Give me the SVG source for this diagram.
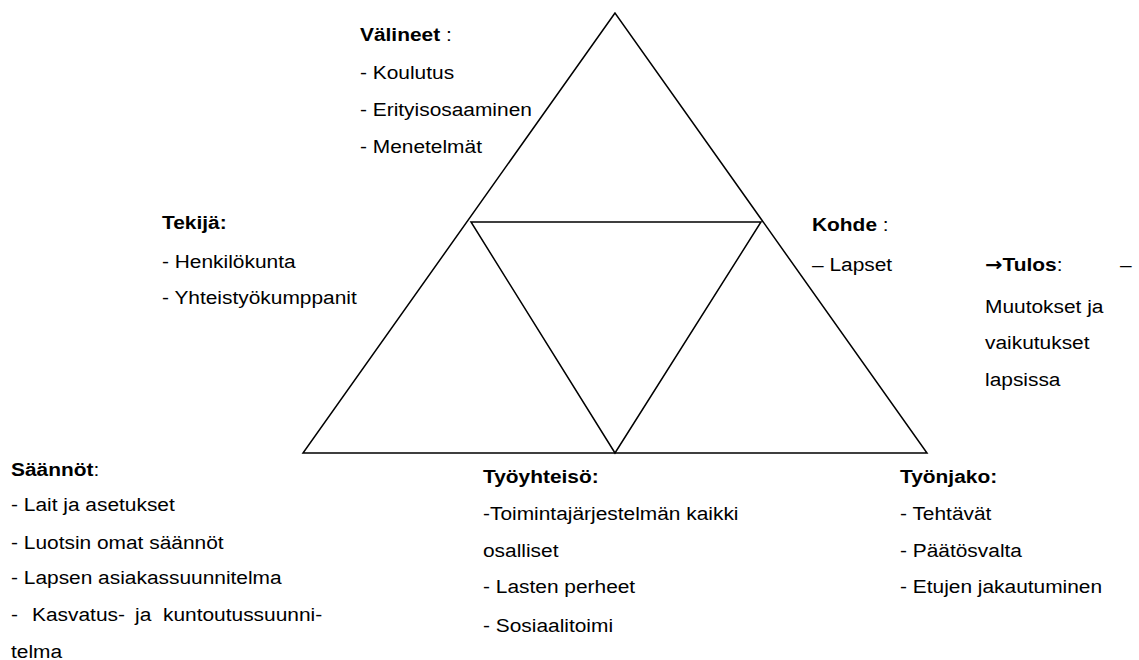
<svg xmlns="http://www.w3.org/2000/svg" width="1139" height="660" viewBox="0 0 1139 660">
<style>
text{font-family:"Liberation Sans",Arial,sans-serif;font-size:19px;fill:#000}
.b{font-weight:bold}
.arr{font-family:"DejaVu Sans",sans-serif;font-weight:bold}
.ln{fill:none;stroke:#000;stroke-width:1.5;stroke-linejoin:miter}
</style>
<rect width="1139" height="660" fill="#fff"/>
<g id="connectors">
<polygon class="ln" points="615,13 303,453 927,453"/>
<polygon class="ln" points="471,222 761,222 615,453"/>
</g>
<g id="valineet">
<text transform="translate(360,41) scale(1.1,1)"><tspan class="b">Välineet</tspan> :</text>
<text transform="translate(360,79) scale(1.1,1)">- Koulutus</text>
<text transform="translate(360,116) scale(1.1,1)">- Erityisosaaminen</text>
<text transform="translate(360,153) scale(1.1,1)">- Menetelmät</text>
</g>
<g id="tekija">
<text class="b" transform="translate(162,229) scale(1.1,1)">Tekijä:</text>
<text transform="translate(162,268) scale(1.1,1)">- Henkilökunta</text>
<text transform="translate(162,304) scale(1.1,1)">- Yhteistyökumppanit</text>
</g>
<g id="kohde">
<text transform="translate(812,231) scale(1.1,1)"><tspan class="b">Kohde</tspan> :</text>
<text transform="translate(812,271) scale(1.1,1)">– Lapset</text>
</g>
<g id="tulos">
<text transform="translate(985,271) scale(1.1,1)"><tspan class="arr">→</tspan><tspan class="b">Tulos</tspan>:</text>
<text transform="translate(1120,271) scale(1.1,1)">–</text>
<text transform="translate(985,313) scale(1.1,1)">Muutokset ja</text>
<text transform="translate(985,349) scale(1.1,1)">vaikutukset</text>
<text transform="translate(985,386) scale(1.1,1)">lapsissa</text>
</g>
<g id="saannot">
<text transform="translate(11,476) scale(1.1,1)"><tspan class="b">Säännöt</tspan>:</text>
<text transform="translate(11,511) scale(1.1,1)">- Lait ja asetukset</text>
<text transform="translate(11,549) scale(1.1,1)">- Luotsin omat säännöt</text>
<text transform="translate(11,584) scale(1.1,1)">- Lapsen asiakassuunnitelma</text>
<text transform="translate(11,621) scale(1.1,1)">-</text>
<text transform="translate(32,621) scale(1.1,1)">Kasvatus-</text>
<text transform="translate(135,621) scale(1.1,1)">ja</text>
<text transform="translate(163,621) scale(1.1,1)">kuntoutussuunni-</text>
<text transform="translate(11,658) scale(1.1,1)">telma</text>
</g>
<g id="tyoyhteiso">
<text class="b" transform="translate(483,483) scale(1.1,1)">Työyhteisö:</text>
<text transform="translate(483,520) scale(1.1,1)">-Toimintajärjestelmän kaikki</text>
<text transform="translate(483,557) scale(1.1,1)">osalliset</text>
<text transform="translate(483,593) scale(1.1,1)">- Lasten perheet</text>
<text transform="translate(483,632) scale(1.1,1)">- Sosiaalitoimi</text>
</g>
<g id="tyonjako">
<text class="b" transform="translate(900,483) scale(1.1,1)">Työnjako:</text>
<text transform="translate(900,520) scale(1.1,1)">- Tehtävät</text>
<text transform="translate(900,557) scale(1.1,1)">- Päätösvalta</text>
<text transform="translate(900,593) scale(1.1,1)">- Etujen jakautuminen</text>
</g>
</svg>
